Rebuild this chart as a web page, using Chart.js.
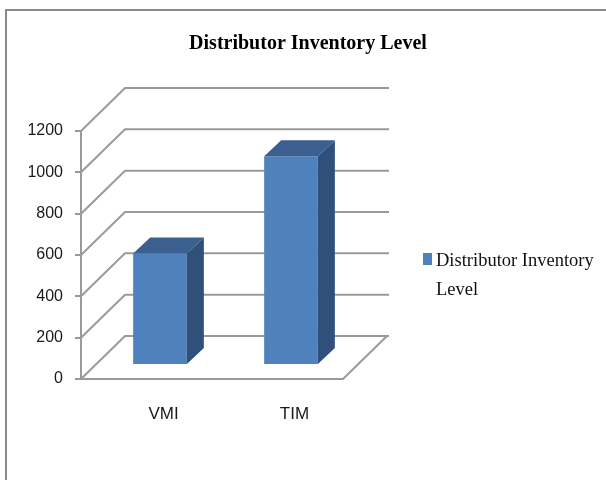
<!DOCTYPE html>
<html>
<head>
<meta charset="utf-8">
<script src="https://cdn.jsdelivr.net/npm/chart.js@4.4.0/dist/chart.umd.min.js"></script>
<style>
  html, body { margin: 0; padding: 0; background: #fff; }
  #wrap { width: 606px; height: 480px; }
</style>
</head>
<body>
<div id="wrap"><canvas id="inv-chart" width="606" height="480"></canvas></div>
<script>
const categories = ["VMI", "TIM"];
const inventory = [540, 1010];
const seriesLabel = "Distributor Inventory Level";
const legendLines = ["Distributor Inventory", "Level"];
const yMin = 0;
const yMax = 1200;
const yStep = 200;

const FRONT = "#4f81bd";
const TOP = "#3b5f8e";
const SIDE = "#30507b";
const GRID = "#9a9a9a";

// pseudo 3D: depth of the box, and where the bars sit inside it
const DEPTH = { x: 44, y: -43 };
const BAR_SHIFT = { x: 13.5, y: -14 };
const BAR_DEPTH = { x: 17, y: -16 };

const box3d = {
  id: "box3d",
  beforeDraw(chart) {
    const ctx = chart.ctx;
    // frame of the picture
    ctx.save();
    ctx.strokeStyle = "#8a8a8a";
    ctx.lineWidth = 2;
    ctx.beginPath();
    ctx.moveTo(6, 480);
    ctx.lineTo(6, 10);
    ctx.lineTo(606, 10);
    ctx.stroke();
    ctx.restore();
  },
  beforeDatasetsDraw(chart) {
    const ctx = chart.ctx;
    const y = chart.scales.y;
    const area = chart.chartArea;
    ctx.save();
    ctx.strokeStyle = GRID;
    ctx.lineWidth = 2;
    ctx.beginPath();
    for (let v = yMin; v <= yMax; v += yStep) {
      const py = y.getPixelForValue(v);
      // side wall
      ctx.moveTo(area.left, py);
      ctx.lineTo(area.left + DEPTH.x, py + DEPTH.y);
      // back wall
      ctx.lineTo(area.right + DEPTH.x + 2, py + DEPTH.y);
    }
    // floor
    const p0 = y.getPixelForValue(yMin);
    ctx.moveTo(area.left, p0);
    ctx.lineTo(area.right, p0);
    ctx.lineTo(area.right + DEPTH.x, p0 + DEPTH.y);
    ctx.stroke();
    ctx.restore();

    ctx.save();
    ctx.translate(BAR_SHIFT.x, BAR_SHIFT.y);
  },
  afterDatasetsDraw(chart) {
    const ctx = chart.ctx;
    const meta = chart.getDatasetMeta(0);
    meta.data.forEach((bar) => {
      const { x, y, base, width } = bar.getProps(["x", "y", "base", "width"], true);
      const l = x - width / 2;
      const r = x + width / 2;
      // top face
      ctx.fillStyle = TOP;
      ctx.beginPath();
      ctx.moveTo(l, y);
      ctx.lineTo(l + BAR_DEPTH.x, y + BAR_DEPTH.y);
      ctx.lineTo(r + BAR_DEPTH.x, y + BAR_DEPTH.y);
      ctx.lineTo(r, y);
      ctx.closePath();
      ctx.fill();
      // side face
      ctx.fillStyle = SIDE;
      ctx.beginPath();
      ctx.moveTo(r, y);
      ctx.lineTo(r + BAR_DEPTH.x, y + BAR_DEPTH.y);
      ctx.lineTo(r + BAR_DEPTH.x, base + BAR_DEPTH.y);
      ctx.lineTo(r, base);
      ctx.closePath();
      ctx.fill();
    });
    ctx.restore();
  },
  afterDraw(chart) {
    // legend on the right, wrapped like the original
    const ctx = chart.ctx;
    ctx.save();
    ctx.fillStyle = FRONT;
    ctx.fillRect(423, 253, 9, 12);
    ctx.fillStyle = "#111";
    ctx.font = "18.5px 'Liberation Serif', 'Times New Roman', serif";
    ctx.textAlign = "left";
    ctx.textBaseline = "alphabetic";
    ctx.fillText(legendLines[0], 436, 266);
    ctx.fillText(legendLines[1], 436, 295);
    ctx.restore();
  }
};

const ctx = document.getElementById("inv-chart").getContext("2d");
new Chart(ctx, {
  type: "bar",
  data: {
    labels: categories,
    datasets: [
      {
        label: seriesLabel,
        data: inventory,
        backgroundColor: FRONT,
        borderWidth: 0,
        barPercentage: 0.41,
        categoryPercentage: 1,
        clip: false
      }
    ]
  },
  options: {
    responsive: false,
    animation: false,
    events: [],
    layout: { padding: { left: 10, right: 0, top: 0, bottom: 61 } },
    plugins: {
      legend: { display: false },
      tooltip: { enabled: false },
      title: {
        display: true,
        text: seriesLabel,
        color: "#000",
        font: { family: "'Liberation Serif', 'Times New Roman', serif", size: 20, weight: "bold", lineHeight: 1.2 },
        padding: { top: 32, bottom: 75 }
      }
    },
    scales: {
      x: {
        grid: { display: false, drawTicks: false },
        border: { display: false },
        ticks: {
          color: "#1a1a1a",
          font: { family: "'Liberation Sans', Arial, sans-serif", size: 17 },
          padding: 25,
          labelOffset: 17
        },
        afterFit(scale) { scale.height = 40; }
      },
      y: {
        min: yMin,
        max: yMax,
        grid: {
          drawOnChartArea: false,
          drawTicks: true,
          tickLength: 6,
          color: GRID,
          lineWidth: 2
        },
        border: { display: true, color: GRID, width: 2 },
        ticks: {
          stepSize: yStep,
          color: "#1a1a1a",
          padding: 12,
          font: { family: "'Liberation Sans', Arial, sans-serif", size: 16 },
          callback: (value) => String(value)
        },
        afterFit(scale) { scale.width = 71; }
      },
      // empty axis that only keeps room on the right for the legend
      side: {
        position: "right",
        grid: { display: false },
        border: { display: false },
        ticks: { display: false },
        afterFit(scale) { scale.width = 263; }
      }
    }
  },
  plugins: [box3d]
});
</script>
</body>
</html>
